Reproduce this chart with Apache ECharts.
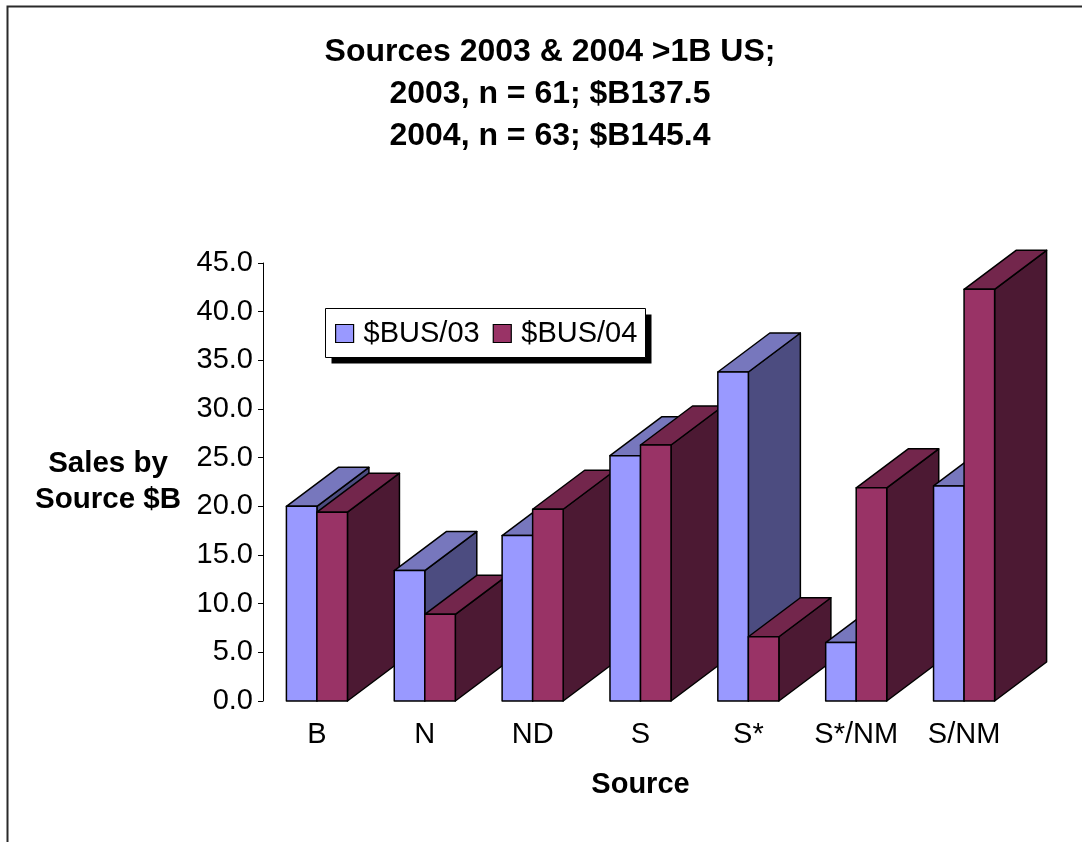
<!DOCTYPE html>
<html>
<head>
<meta charset="utf-8">
<title>Sources 2003 & 2004</title>
<script src="https://cdn.jsdelivr.net/npm/echarts@6/dist/echarts.min.js"></script>
<style>
  html, body { margin: 0; padding: 0; background: #fff; }
  #chart { width: 1082px; height: 842px; }
</style>
</head>
<body>
<div id="chart"></div>
<script>
// Sales by source, billions of US dollars
const categories = ['B', 'N', 'ND', 'S', 'S*', 'S*/NM', 'S/NM'];
const sales2003 = [20.0, 13.4, 17.0, 25.2, 33.8, 6.0, 22.1];
const sales2004 = [19.4, 8.9, 19.7, 26.3, 6.6, 21.9, 42.3];
const seriesNames = ['$BUS/03', '$BUS/04'];
const titleLines = ['Sources 2003 & 2004 >1B US;', '2003, n = 61; $B137.5', '2004, n = 63; $B145.4'];

const FONT = '"Liberation Sans", Arial, sans-serif';

// face colours: front, top, side
const shades = [
  { front: '#9999FF', top: '#7777BD', side: '#4C4C80' },
  { front: '#993366', top: '#73264C', side: '#4C1933' }
];

// oblique depth of each column, in pixels
const DEPTH_X = 52;
const DEPTH_Y = 39;

function makeRenderer(seriesIdx) {
  return function (params, api) {
    const band = api.size([1, 0])[0];
    const barW = band * 0.283;
    const base = api.coord([api.value(0), 0]);
    const tip = api.coord([api.value(0), api.value(1)]);
    const left = base[0] - barW + seriesIdx * barW;
    const right = left + barW;
    const ty = tip[1];
    const by = base[1];
    const c = shades[seriesIdx];
    // columns further right are painted over those to their left
    const z2 = params.dataIndex * 2 + seriesIdx;
    const line = { stroke: '#000', lineWidth: 1.5, lineJoin: 'round' };
    return {
      type: 'group',
      children: [
        {
          type: 'polygon', z2: z2,
          shape: { points: [[right, ty], [right + DEPTH_X, ty - DEPTH_Y], [right + DEPTH_X, by - DEPTH_Y], [right, by]] },
          style: Object.assign({ fill: c.side }, line)
        },
        {
          type: 'polygon', z2: z2,
          shape: { points: [[left, ty], [right, ty], [right + DEPTH_X, ty - DEPTH_Y], [left + DEPTH_X, ty - DEPTH_Y]] },
          style: Object.assign({ fill: c.top }, line)
        },
        {
          type: 'rect', z2: z2,
          shape: { x: left, y: ty, width: barW, height: by - ty },
          style: Object.assign({ fill: c.front }, line)
        }
      ]
    };
  };
}

const chart = echarts.init(document.getElementById('chart'), null, { renderer: 'canvas' });

chart.setOption({
  animation: false,
  backgroundColor: '#fff',
  title: {
    text: titleLines.join('\n'),
    left: 550,
    top: 31.5,
    padding: 0,
    textAlign: 'center',
    textStyle: { fontFamily: FONT, fontSize: 32, fontWeight: 'bold', color: '#000', lineHeight: 42 }
  },
  graphic: [
    {
      type: 'rect', z: 0,
      shape: { x: 7.5, y: 6.5, width: 1200, height: 1000 },
      style: { fill: 'none', stroke: '#2a2a2a', lineWidth: 2 }
    },
    {
      type: 'rect', z: 3,
      shape: { x: 331.5, y: 314.5, width: 320, height: 49 },
      style: { fill: '#000' }
    },
    {
      type: 'rect', z: 3,
      shape: { x: 325.5, y: 308.5, width: 320, height: 49 },
      style: { fill: '#fff', stroke: '#000', lineWidth: 1 }
    }
  ],
  legend: {
    left: 335,
    top: 319,
    padding: 0,
    itemWidth: 18,
    itemHeight: 18,
    itemGap: 13,
    icon: 'rect',
    z: 5,
    data: seriesNames.map((n, i) => ({
      name: n,
      itemStyle: { color: shades[i].front, borderColor: '#000', borderWidth: 1.2 }
    })),
    textStyle: { fontFamily: FONT, fontSize: 29, color: '#000', padding: [0, 0, 0, 5] }
  },
  grid: { left: 263, right: 64, top: 263, bottom: 141, containLabel: false },
  xAxis: {
    type: 'category',
    data: categories,
    name: 'Source',
    nameLocation: 'middle',
    nameGap: 69,
    nameTextStyle: { fontFamily: FONT, fontSize: 29, fontWeight: 'bold', color: '#000' },
    axisLine: { show: false },
    axisTick: { show: false },
    splitLine: { show: false },
    axisLabel: { fontFamily: FONT, fontSize: 29, color: '#000', margin: 19, interval: 0 }
  },
  yAxis: {
    type: 'value',
    min: 0,
    max: 45,
    interval: 5,
    name: 'Sales by\nSource $B',
    nameLocation: 'middle',
    nameRotate: 0,
    nameGap: 155,
    nameTextStyle: { fontFamily: FONT, fontSize: 29.5, fontWeight: 'bold', color: '#000', align: 'center', lineHeight: 36 },
    axisLine: { show: true, lineStyle: { color: '#000', width: 1 } },
    axisTick: { show: true, length: 5, lineStyle: { color: '#000', width: 1 } },
    splitLine: { show: false },
    axisLabel: { fontFamily: FONT, fontSize: 29, color: '#000', margin: 10, formatter: v => v.toFixed(1) }
  },
  series: [
    {
      type: 'custom',
      name: seriesNames[0],
      itemStyle: { color: shades[0].front, borderColor: '#000' },
      renderItem: makeRenderer(0),
      encode: { x: 0, y: 1 },
      data: sales2003.map((v, i) => [i, v])
    },
    {
      type: 'custom',
      name: seriesNames[1],
      itemStyle: { color: shades[1].front, borderColor: '#000' },
      renderItem: makeRenderer(1),
      encode: { x: 0, y: 1 },
      data: sales2004.map((v, i) => [i, v])
    }
  ]
});
</script>
</body>
</html>
